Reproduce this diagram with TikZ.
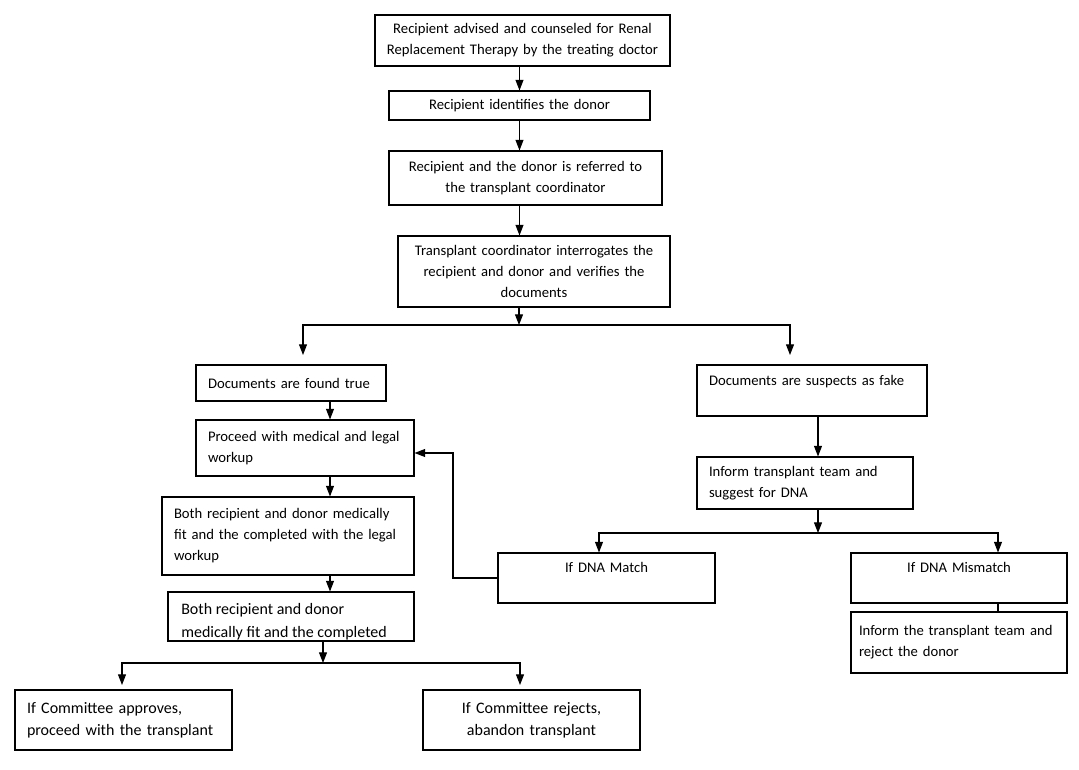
\documentclass[tikz,border=0pt]{standalone}
\usepackage{fontspec}
\setmainfont{Carlito}
\usetikzlibrary{arrows.meta}
\newcommand{\mkbox}[7][]{%
 \pgfmathsetlengthmacro\mybw{(#4-#2)*0.75pt}%
 \pgfmathsetlengthmacro\mybh{(#5-#3)*0.75pt}%
 \pgfmathsetlengthmacro\mytw{(#4-#2-24)*0.75pt}%
 \node[box, minimum width=\mybw, minimum height=\mybh, text width=\mytw, #1] (#6) at ({(#2+#4)/2},{(#3+#5)/2}) {#7};}
\begin{document}
\begin{tikzpicture}[x=0.75pt,y=-0.75pt,
  box/.style={draw, line width=0.8pt, inner xsep=9pt, inner ysep=0pt,
    font=\fontsize{11}{15.75}\selectfont, align=left},
  ctr/.style={align=center},
  big/.style={font=\fontsize{12}{16.5}\selectfont},
  arr/.style={-{Triangle[width=6pt,length=8pt]}, line width=0.8pt},
  lin/.style={line width=0.8pt}]
\useasboundingbox (0,0) rectangle (1079,770);

% top chain
\mkbox[ctr, text width=214pt, inner xsep=3pt]{375}{15}{670}{66}{b1}{Recipient advised and counseled for Renal\\Replacement Therapy by the treating doctor}
\mkbox[ctr]{389}{91}{650}{120}{b2}{Recipient identifies the donor}
\mkbox[ctr]{389}{151}{662}{205}{b3}{Recipient and the donor is referred to\\the transplant coordinator}
\mkbox[ctr]{398}{236}{670}{307}{b4}{Transplant coordinator interrogates the\\recipient and donor and verifies the\\documents}

% left column
\mkbox{196}{365}{386}{401}{b5}{Documents are found true}
\mkbox{196}{420}{414}{476}{b6}{Proceed with medical and legal\\workup}
\mkbox{162}{497}{414}{575}{b7}{Both recipient and donor medically\\fit and the completed with the legal\\workup}
\begin{scope}
  \clip (168,592) rectangle (414,641);
  \node[anchor=north west, inner sep=0pt, align=left, font=\fontsize{12}{17.25}\selectfont] (b8t) at (181,603) {Both recipient and donor\\medically fit and the completed};
\end{scope}
\mkbox{168}{592}{414}{641}{b8}{}
\mkbox[big]{15}{690}{232}{750}{b9}{If Committee approves,\\proceed with the transplant}
\mkbox[big,ctr]{423}{690}{640}{750}{b10}{If Committee rejects,\\abandon transplant}

% right column
\mkbox{697}{365}{927}{416}{b11}{Documents are suspects as fake\\\mbox{}}
\mkbox{697}{457}{913}{509}{b12}{Inform transplant team and\\suggest for DNA}
\mkbox[ctr]{498}{553}{715}{603}{b13}{If DNA Match\\\mbox{}}
\mkbox[ctr]{851}{553}{1067}{603}{b14}{If DNA Mismatch\\\mbox{}}
\mkbox[text width=150pt, inner xsep=6pt]{851}{612}{1067}{673}{b15}{Inform the transplant team and\\reject the donor}

% helper coordinates
\coordinate (s1) at (519,325);
\coordinate (tl) at (303,355);
\coordinate (tr) at (790,355);
\coordinate (cL) at (330,0);
\coordinate (s2) at (323,663);
\coordinate (bl) at (122,685);
\coordinate (br) at (520,685);
\coordinate (cR) at (818,0);
\coordinate (s3) at (818,533);
\coordinate (m1) at (599,0);
\coordinate (m2) at (998,0);
\coordinate (fb) at (453,453);

% connectors
\draw[arr] (b1.south -| b2.north) -- (b2.north);
\draw[arr] (b2.south) -- (b2.south |- b3.north);
\draw[arr] (b2.south |- b3.south) -- (b2.south |- b4.north);
\draw[arr] (s1 |- b4.south) -- (s1);
\draw[arr] (s1) -| (tl);
\draw[arr] (s1) -| (tr);
\draw[arr] (cL |- b5.south) -- (cL |- b6.north);
\draw[arr] (cL |- b6.south) -- (cL |- b7.north);
\draw[arr] (cL |- b7.south) -- (cL |- b8.north);
\draw[arr] (s2 |- b8.south) -- (s2);
\draw[arr] (s2) -| (bl);
\draw[arr] (s2) -| (br);
\draw[arr] (cR |- b11.south) -- (cR |- b12.north);
\draw[arr] (s3 |- b12.south) -- (s3);
\draw[arr] (s3) -| (m1 |- b13.north);
\draw[arr] (s3) -| (m2 |- b14.north);
\draw[lin] (m2 |- b14.south) -- (m2 |- b15.north);
\draw[arr] (b13.west) -| (fb) -- (fb -| b6.east);
\end{tikzpicture}
\end{document}
